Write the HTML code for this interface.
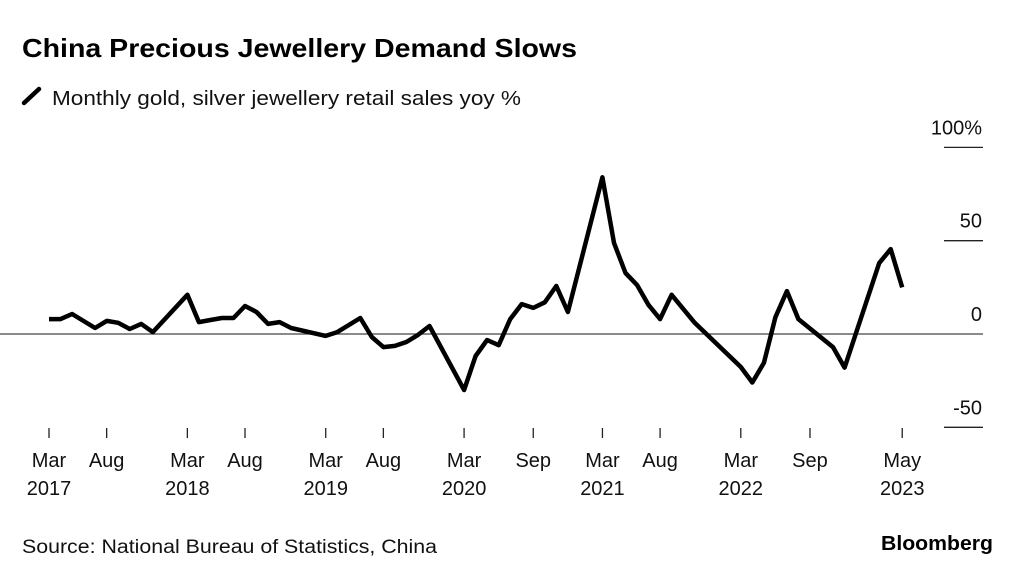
<!DOCTYPE html>
<html><head><meta charset="utf-8"><style>
body{margin:0;background:#fff;width:1024px;height:578px;overflow:hidden;font-family:"Liberation Sans",sans-serif;}
svg{display:block}
</style></head><body>
<svg width="1024" height="578">
<text x="22" y="57" font-size="26" font-weight="bold" fill="#000" textLength="555" lengthAdjust="spacingAndGlyphs">China Precious Jewellery Demand Slows</text>
<line x1="24" y1="103" x2="39" y2="89" stroke="#000" stroke-width="4.5" stroke-linecap="round"/>
<text x="52" y="105" font-size="20" fill="#111" textLength="469" lengthAdjust="spacingAndGlyphs">Monthly gold, silver jewellery retail sales yoy %</text>
<g id="yaxis"></g>
<g id="xaxis"></g>
<path id="line" fill="none" stroke="#000" stroke-width="4.5" stroke-linejoin="round"/>
<text x="22" y="553" font-size="19" fill="#111" textLength="415" lengthAdjust="spacingAndGlyphs">Source: National Bureau of Statistics, China</text>
<text x="881" y="550" font-size="20" font-weight="bold" fill="#000" textLength="112" lengthAdjust="spacingAndGlyphs">Bloomberg</text>
</svg>
<script>
const monthIdx=[0,1,2,4,5,6,7,8,9,12,13,14,15,16,17,18,19,20,21,24,25,27,28,29,30,31,32,33,36,37,38,39,40,41,42,43,44,45,48,49,50,51,52,53,54,56,60,61,62,63,64,65,68,69,72,73,74];
const values=[8,8,10.7,3.2,7,6,2.7,5.4,1,21,6.4,7.5,8.6,8.6,15,11.8,5.4,6.4,3.2,-1,1,8.6,-1.6,-7,-6.4,-4.3,-0.5,4.3,-30,-11.8,-3.2,-6,8,16,14,17,25.7,11.8,84,48.8,32.7,26.3,15.5,8,21,6,-17.7,-26,-15.5,9,23,8,-7,-18,38,45.5,25];
const yTicks=[100,50,0,-50];
const yTickLabels=["100%","50","0","-50"];
const xTickIdx=[0,5,12,17,24,29,36,42,48,53,60,66,74];
const xTickMonth=["Mar","Aug","Mar","Aug","Mar","Aug","Mar","Sep","Mar","Aug","Mar","Sep","May"];
const xTickYear=["2017","","2018","","2019","","2020","","2021","","2022","","2023"];
const NS="http://www.w3.org/2000/svg";
const X=i=>49+i*11.53;
const Y=v=>334-v*1.866;
const ya=document.getElementById('yaxis');
yTicks.forEach((t,k)=>{
  const l=document.createElementNS(NS,'line');
  
  
  l.setAttribute('x1',t===0?0:944);l.setAttribute('x2',983);
  l.setAttribute('y1',Y(t));l.setAttribute('y2',Y(t));
  l.setAttribute('stroke',t===0?'#444':'#222');l.setAttribute('stroke-width','1.3');
  ya.appendChild(l);
  const tx=document.createElementNS(NS,'text');
  
  
  tx.setAttribute('x',982);tx.setAttribute('y',Y(t)-13);
  tx.setAttribute('text-anchor','end');tx.setAttribute('font-size','20');tx.setAttribute('fill','#111');
  tx.textContent=yTickLabels[k];ya.appendChild(tx);
});
const xa=document.getElementById('xaxis');
xTickIdx.forEach((m,k)=>{
  const x=X(m);
  const l=document.createElementNS(NS,'line');
  
  
  l.setAttribute('x1',x);l.setAttribute('x2',x);l.setAttribute('y1',428);l.setAttribute('y2',438);
  l.setAttribute('stroke','#222');l.setAttribute('stroke-width','1.3');
  xa.appendChild(l);
  const t=document.createElementNS(NS,'text');
  
  
  t.setAttribute('x',x);t.setAttribute('y',467);t.setAttribute('text-anchor','middle');
  t.setAttribute('font-size','20');t.setAttribute('fill','#111');
  t.textContent=xTickMonth[k];xa.appendChild(t);
  if(xTickYear[k]){
    const y=document.createElementNS(NS,'text');
    
    
    y.setAttribute('x',x);y.setAttribute('y',495);y.setAttribute('text-anchor','middle');
    y.setAttribute('font-size','20');y.setAttribute('fill','#111');
    y.textContent=xTickYear[k];xa.appendChild(y);
  }
});
document.getElementById('line').setAttribute('d',monthIdx.map((m,i)=>(i?'L':'M')+X(m).toFixed(1)+','+Y(values[i]).toFixed(1)).join(''));
</script>
</body></html>
